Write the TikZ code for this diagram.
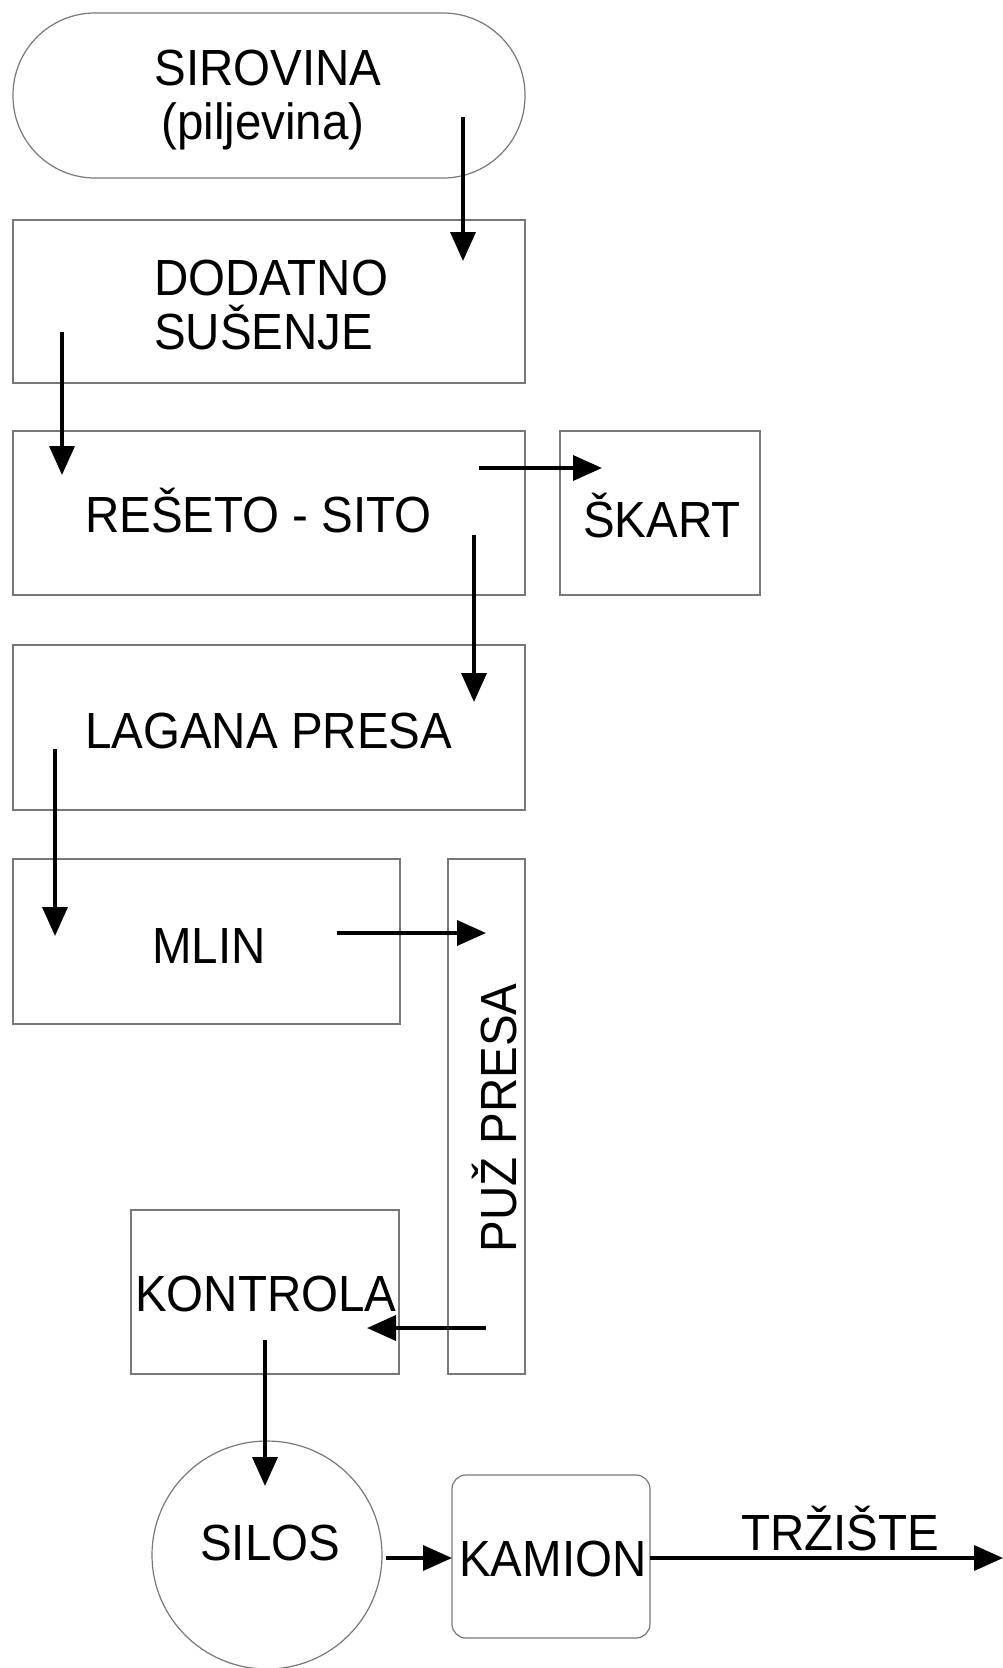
\documentclass[tikz,border=0pt]{standalone}
\usepackage{fontspec}
\setmainfont{Liberation Sans}
\usetikzlibrary{arrows.meta}
\definecolor{boxgray}{RGB}{120,120,120}
\newcommand{\tallt}[1]{\scalebox{1}[1.07]{#1}}
\begin{document}
\begin{tikzpicture}[x=1pt,y=-1pt,
  box/.style={draw=boxgray, line width=1.2pt, inner sep=0pt, outer sep=0pt, anchor=north west},
  lbl/.style={font=\fontsize{47.5}{53}\selectfont, inner sep=0pt, anchor=base west},
  arr/.style={line width=3.6pt, -{Triangle[length=29pt,width=25pt]}}]
  \fill[white] (0,0) rectangle (1003,1668);
  \useasboundingbox (0,0) rectangle (1003,1668);

  % process blocks
  \node[box, rounded corners=82pt, minimum width=512pt, minimum height=165pt] (term) at (13,13) {};
  \node[box, minimum width=512pt, minimum height=163pt] (dod) at (13,220) {};
  \node[box, minimum width=512pt, minimum height=164pt] (res) at (13,431) {};
  \node[box, minimum width=200pt, minimum height=164pt] (skart) at (560,431) {};
  \node[box, minimum width=512pt, minimum height=165pt] (lag) at (13,645) {};
  \node[box, minimum width=387pt, minimum height=165pt] (mlin) at (13,859) {};
  \node[box, minimum width=77pt, minimum height=515pt] (puz) at (448,859) {};
  \node[box, minimum width=268pt, minimum height=164pt] (kon) at (131,1210) {};
  \draw[boxgray, line width=1.2pt] (267,1555) ellipse [x radius=115, y radius=114];
  \coordinate (silos) at (267,1555);
  \node[box, rounded corners=14pt, minimum width=198pt, minimum height=163pt] (kam) at (452,1475) {};

  % labels
  \node[lbl, anchor=base] (t1a) at (268,85) {\tallt{SIROVINA}};
  \node[lbl, anchor=base] (t1b) at (263,139) {\tallt{(piljevina)}};
  \node[lbl] (t2a) at (154,295) {\tallt{DODATNO}};
  \node[lbl] (t2b) at (154,349) {\tallt{SUŠENJE}};
  \node[lbl] (t3) at (85,532) {\tallt{REŠETO - SITO}};
  \node[lbl] (t4) at (583,537) {\tallt{ŠKART}};
  \node[lbl] (t5) at (85,748) {\tallt{LAGANA PRESA}};
  \node[lbl] (t6) at (152,963) {\tallt{MLIN}};
  \node[lbl, anchor=base, rotate=90] (t7) at (516,1118) {\tallt{PUŽ PRESA}};
  \node[lbl] (t8) at (135,1311) {\tallt{KONTROLA}};
  \node[lbl] (t9) at (200,1560) {\tallt{SILOS}};
  \node[lbl] (t10) at (459,1576) {\tallt{KAMION}};
  \node[lbl] (t11) at (741,1550) {\tallt{TRŽIŠTE}};

  % arrow end points
  \coordinate (a1s) at (463,117);  \coordinate (a1e) at (463,261);
  \coordinate (a2s) at (62,332);   \coordinate (a2e) at (62,475);
  \coordinate (a3s) at (479,468);  \coordinate (a3e) at (602,468);
  \coordinate (a4s) at (474,535);  \coordinate (a4e) at (474,702);
  \coordinate (a5s) at (55,749);   \coordinate (a5e) at (55,936);
  \coordinate (a6s) at (337,933);  \coordinate (a6e) at (486,933);
  \coordinate (a7s) at (486,1328); \coordinate (a7e) at (367,1328);
  \coordinate (a8s) at (265,1340); \coordinate (a8e) at (265,1486);
  \coordinate (a9s) at (386,1558); \coordinate (a9e) at (452,1558);
  \coordinate (a10e) at (1003,1558);

  % flow
  \draw[arr] (a1s) -- (a1e);
  \draw[arr] (a2s) -- (a2e);
  \draw[arr] (a3s) -- (a3e);
  \draw[arr] (a4s) -- (a4e);
  \draw[arr] (a5s) -- (a5e);
  \draw[arr] (a6s) -- (a6e);
  \draw[arr] (a7s) -- (a7e);
  \draw[arr] (a8s) -- (a8e);
  \draw[arr] (a9s) -- (a9e);
  \draw[arr] (kam.east |- a9s) -- (a10e);
\end{tikzpicture}
\end{document}
